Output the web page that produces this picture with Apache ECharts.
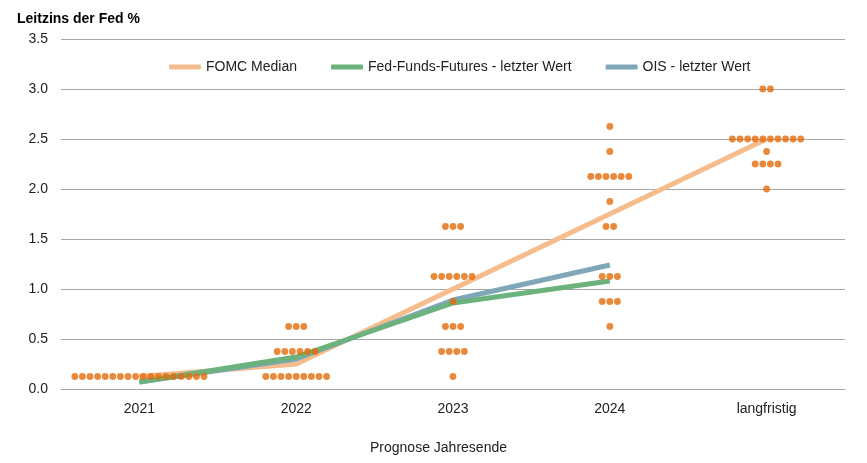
<!DOCTYPE html>
<html>
<head>
<meta charset="utf-8">
<script src="https://cdn.jsdelivr.net/npm/echarts@6/dist/echarts.min.js"></script>
<style>html,body{margin:0;padding:0;background:#fff;}#c{width:867px;height:463px;}</style>
</head>
<body>
<div id="c"></div>
<script>
const categories = ['2021', '2022', '2023', '2024', 'langfristig'];
const yTicks = [0, 0.5, 1, 1.5, 2, 2.5, 3, 3.5];
const fomcMedian = [0.125, 0.25, 1.0, 1.75, 2.5];
const fedFundsFutures = [0.07, 0.32, 0.86, 1.08, null];
const ois = [0.07, 0.30, 0.89, 1.24, null];
// dot plot: [level, number of FOMC participants]
const dots2021 = [[0.125, 18]];
const dots2022 = [[0.125, 9], [0.375, 6], [0.625, 3]];
const dots2023 = [[0.125, 1], [0.375, 4], [0.625, 3], [0.875, 1], [1.125, 6], [1.625, 3]];
const dots2024 = [[0.625, 1], [0.875, 3], [1.125, 3], [1.625, 2], [1.875, 1], [2.125, 6], [2.375, 1], [2.625, 1]];
const dotsLongRun = [[2.0, 1], [2.25, 4], [2.375, 1], [2.5, 10], [3.0, 2]];

const dotGroups = [dots2021, dots2022, dots2023, dots2024, dotsLongRun];
const DOT_SPACING = 7.6;
const dotData = [];
dotGroups.forEach((group, ci) => {
  group.forEach(([level, n]) => {
    for (let i = 0; i < n; i++) {
      dotData.push({
        value: [ci, level],
        symbolOffset: [(i - (n - 1) / 2) * DOT_SPACING, 0]
      });
    }
  });
});

const FONT = 'Liberation Sans, Arial, sans-serif';
const chart = echarts.init(document.getElementById('c'), null, { renderer: 'canvas' });
chart.setOption({
  animation: false,
  backgroundColor: '#ffffff',
  title: [
    { text: 'Leitzins der Fed %', left: 12, top: 7,
      textStyle: { fontFamily: FONT, fontSize: 14, fontWeight: 'bold', color: '#000' } },
    { text: 'Prognose Jahresende', left: 365, top: 436,
      textStyle: { fontFamily: FONT, fontSize: 14, fontWeight: 'normal', color: '#222' } }
  ],
  legend: {
    left: 164, top: 55,
    itemWidth: 32, itemHeight: 5, itemGap: 34,
    icon: 'roundRect',
    textStyle: { fontFamily: FONT, fontSize: 14, color: '#222' },
    data: ['FOMC Median', 'Fed-Funds-Futures - letzter Wert', 'OIS - letzter Wert']
  },
  grid: { left: 61, right: 22, top: 39, bottom: 74, containLabel: false },
  xAxis: {
    type: 'category', data: categories, boundaryGap: true,
    axisLine: { show: true, lineStyle: { color: '#a6a6a6', width: 1 } },
    axisTick: { show: false },
    axisLabel: { fontFamily: FONT, fontSize: 14, color: '#222', margin: 13 },
    splitLine: { show: false }
  },
  yAxis: {
    type: 'value', min: 0, max: 3.5, interval: 0.5,
    axisLine: { show: false }, axisTick: { show: false },
    axisLabel: { fontFamily: FONT, fontSize: 14, color: '#222', margin: 13,
      formatter: v => yTicks.includes(v) ? v.toFixed(1) : '' },
    splitLine: { lineStyle: { color: '#a6a6a6', width: 1 } }
  },
  series: [
    { name: 'FOMC Median', type: 'line', data: fomcMedian, symbol: 'none', z: 2,
      lineStyle: { color: '#F5BC8D', width: 5 }, itemStyle: { color: '#F5BC8D' } },
    { name: 'OIS - letzter Wert', type: 'line', data: ois, symbol: 'none', z: 3,
      lineStyle: { color: '#7FA7B8', width: 5 }, itemStyle: { color: '#7FA7B8' } },
    { name: 'Fed-Funds-Futures - letzter Wert', type: 'line', data: fedFundsFutures, symbol: 'none', z: 4,
      lineStyle: { color: '#6CB27C', width: 5 }, itemStyle: { color: '#6CB27C' } },
    { name: 'dots', type: 'scatter', data: dotData, symbol: 'circle', symbolSize: 6.8, z: 5,
      itemStyle: { color: '#E46C0A' } }
  ]
});
</script>
</body>
</html>
